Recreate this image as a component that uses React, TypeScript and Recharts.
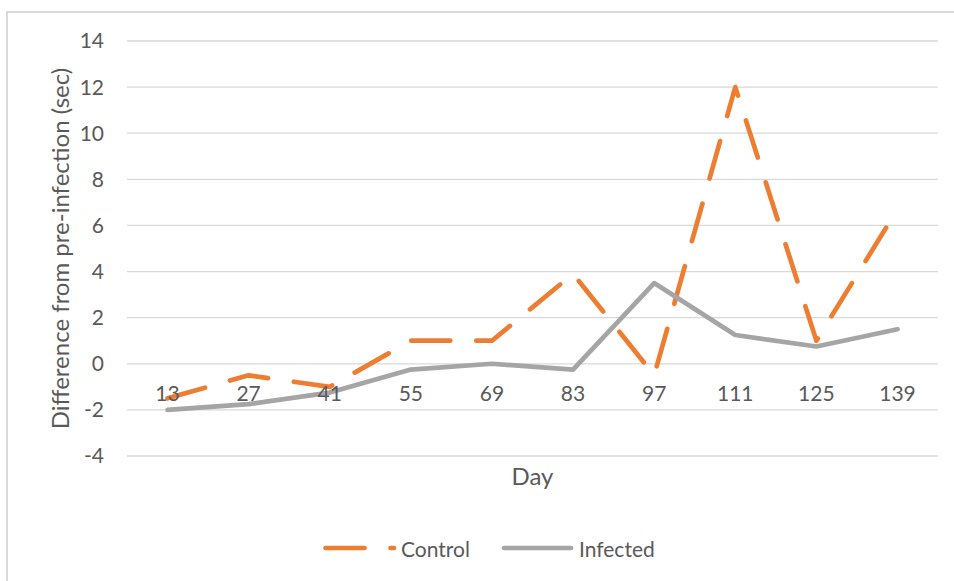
import { LineChart, Line, XAxis, YAxis, CartesianGrid } from 'recharts';

const days = ['13', '27', '41', '55', '69', '83', '97', '111', '125', '139'];
const control = [-1.5, -0.5, -1, 1, 1, 3.9, -0.5, 12, 1, 6.7];
const infected = [-2, -1.75, -1.25, -0.25, 0, -0.25, 3.5, 1.25, 0.75, 1.5];
const yTicks = [-4, -2, 0, 2, 4, 6, 8, 10, 12, 14];

const data = days.map((day, i) => ({ day, Control: control[i], Infected: infected[i] }));

const FONT = 'Lato, "Open Sans", sans-serif';
const TEXT = '#595959';
const ORANGE = '#ED7D31';
const GREY = '#A5A5A5';
const DASH = '39 26';

// Excel puts the category labels just under the zero line, not at the bottom
function DayTick({ x, y, payload }: any) {
  return (
    <text x={x} y={y - 55} textAnchor="middle" fill={TEXT} fontSize={21} fontFamily={FONT}>
      {payload.value}
    </text>
  );
}

function YTitle({ viewBox }: any) {
  const cx = viewBox.x + 59;
  const cy = viewBox.y + viewBox.height / 2;
  return (
    <text
      x={cx}
      y={cy}
      transform={`rotate(-90 ${cx} ${cy})`}
      textAnchor="middle"
      dominantBaseline="central"
      fill={TEXT}
      fontSize={24}
      fontFamily={FONT}
    >
      Difference from pre-infection (sec)
    </text>
  );
}

function XTitle({ viewBox }: any) {
  return (
    <text
      x={viewBox.x + viewBox.width / 2}
      y={viewBox.y + 29}
      textAnchor="middle"
      fill={TEXT}
      fontSize={24}
      fontFamily={FONT}
    >
      Day
    </text>
  );
}

function ChartLegend() {
  return (
    <svg width={954} height={50} style={{ position: 'absolute', left: 0, top: 520 }}>
      <line x1={325.5} x2={394} y1={28} y2={28} stroke={ORANGE} strokeWidth={4.7} strokeDasharray={DASH} strokeLinecap="round" />
      <text x={401} y={36.5} fill={TEXT} fontSize={21} fontFamily={FONT}>Control</text>
      <line x1={504} x2={571} y1={28} y2={28} stroke={GREY} strokeWidth={4.7} strokeLinecap="round" />
      <text x={579} y={36.5} fill={TEXT} fontSize={21} fontFamily={FONT}>Infected</text>
    </svg>
  );
}

export default function App() {
  return (
    <div style={{ position: 'fixed', left: 0, top: 0, width: 954, height: 581, overflow: 'hidden', background: '#fff' }}>
      <div
        style={{
          position: 'absolute',
          left: 6,
          top: 11,
          width: 980,
          height: 600,
          border: '2px solid #d9d9d9',
        }}
      />
      <div style={{ position: 'absolute', left: 0, top: 0 }}>
        <LineChart width={954} height={581} data={data} margin={{ top: 41, right: 16, bottom: 95, left: 0 }}>
          <CartesianGrid vertical={false} stroke="#d9d9d9" strokeWidth={1.3} />
          <XAxis
            dataKey="day"
            height={30}
            axisLine={false}
            tickLine={false}
            tickSize={0}
            tickMargin={0}
            interval={0}
            padding={{ left: 40.5, right: 40.5 }}
            tick={<DayTick />}
            label={{ content: XTitle }}
          />
          <YAxis
            width={127}
            domain={[-4, 14]}
            ticks={yTicks}
            axisLine={false}
            tickLine={false}
            tickSize={0}
            tickMargin={23}
            tick={{ fill: TEXT, fontSize: 21, fontFamily: FONT }}
            label={{ content: YTitle }}
          />
          <Line
            dataKey="Control"
            stroke={ORANGE}
            strokeWidth={4.7}
            strokeDasharray={DASH}
            strokeLinecap="round"
            strokeLinejoin="round"
            dot={false}
            isAnimationActive={false}
          />
          <Line
            dataKey="Infected"
            stroke={GREY}
            strokeWidth={4.7}
            strokeLinecap="round"
            strokeLinejoin="round"
            dot={false}
            isAnimationActive={false}
          />
        </LineChart>
      </div>
      <ChartLegend />
    </div>
  );
}
